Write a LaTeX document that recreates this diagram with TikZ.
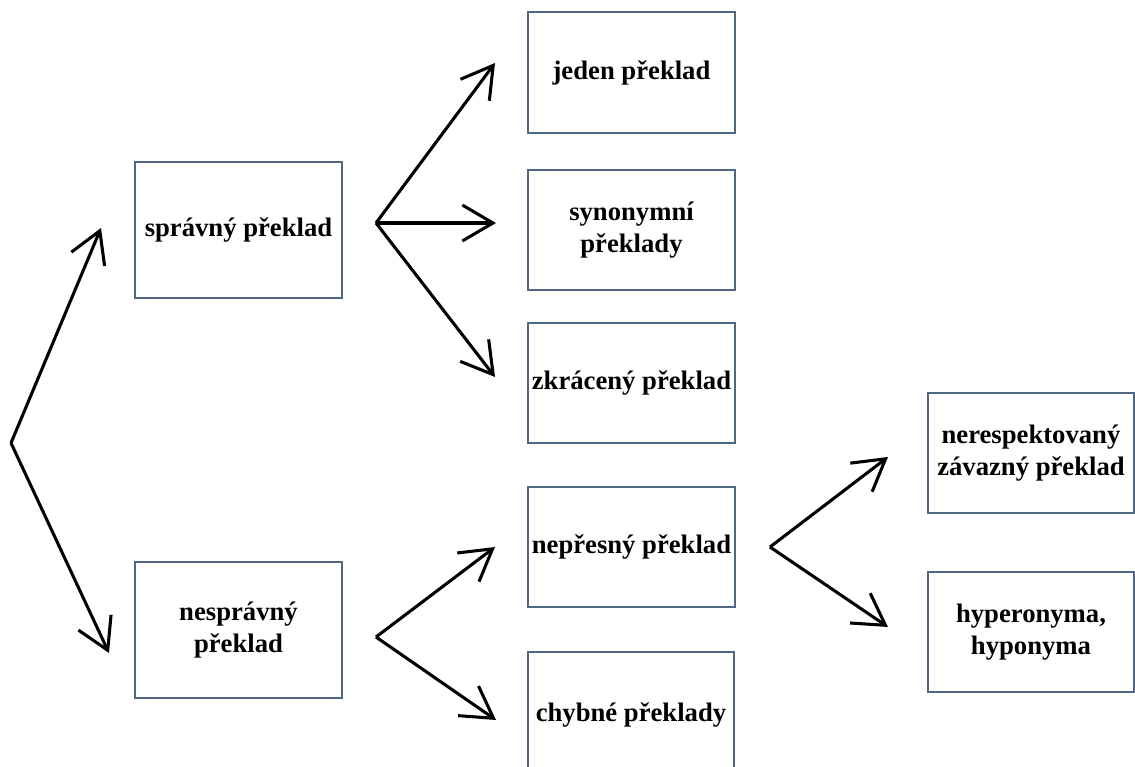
\documentclass[tikz,border=0pt]{standalone}
\usepackage{fontspec}
\setmainfont{Liberation Serif}
\usetikzlibrary{arrows.meta}
\definecolor{boxline}{RGB}{80,104,134}
\begin{document}
\begin{tikzpicture}[x=0.75pt,y=-0.75pt,
  stepbox/.style={draw=boxline,line width=1.3pt,fill=white,inner sep=0pt,align=center,
    font=\fontsize{20}{24}\selectfont\bfseries},
  arr/.style={line width=2.3pt,-{Straight Barb[length=23pt,width=27pt,line width=2.3pt]}}]
\useasboundingbox (0,0) rectangle (1135,767);
\begin{scope}
\clip (0,0) rectangle (1135,767);
\node[stepbox,minimum width=207*0.75pt,minimum height=136*0.75pt] (spr) at (238.5,230) {správný překlad};
\node[stepbox,minimum width=207*0.75pt,minimum height=136*0.75pt] (nespr) at (238.5,630) {nesprávný\\překlad};
\node[stepbox,minimum width=207*0.75pt,minimum height=121*0.75pt] (jeden) at (631.5,72.5) {jeden překlad};
\node[stepbox,minimum width=207*0.75pt,minimum height=120*0.75pt] (syn) at (631.5,230) {synonymní\\překlady};
\node[stepbox,minimum width=207*0.75pt,minimum height=120*0.75pt] (zkr) at (631.5,383) {zkrácený překlad};
\node[stepbox,minimum width=207*0.75pt,minimum height=120*0.75pt] (nepr) at (631.5,547) {nepřesný překlad};
\node[stepbox,minimum width=206*0.75pt,minimum height=150*0.75pt] (chyb) at (631,727) {};
\node[font=\fontsize{20}{24}\selectfont\bfseries] (chybt) at (631,715) {chybné překlady};
\node[stepbox,minimum width=206*0.75pt,minimum height=120*0.75pt] (nere) at (1031,453) {nerespektovaný\\závazný překlad};
\node[stepbox,minimum width=206*0.75pt,minimum height=120*0.75pt] (hyp) at (1031,632) {hyperonyma,\\hyponyma};
\end{scope}
\coordinate (s0) at (11,443);
\coordinate (t1) at (101,228);
\coordinate (t2) at (109,653);
\coordinate (s1) at (376,223);
\coordinate (u1) at (495,63);
\coordinate (u2) at (496,223);
\coordinate (u3) at (495,377);
\coordinate (s2) at (376,637);
\coordinate (v1) at (495,547);
\coordinate (v2) at (496,720);
\coordinate (s3) at (770,547);
\coordinate (w1) at (888,457);
\coordinate (w2) at (888,627);
\draw[arr] (s0) -- (t1);
\draw[arr] (s0) -- (t2);
\draw[arr] (s1) -- (u1);
\draw[arr] (s1) -- (u2);
\draw[arr] (s1) -- (u3);
\draw[arr] (s2) -- (v1);
\draw[arr] (s2) -- (v2);
\draw[arr] (s3) -- (w1);
\draw[arr] (s3) -- (w2);
\end{tikzpicture}
\end{document}
